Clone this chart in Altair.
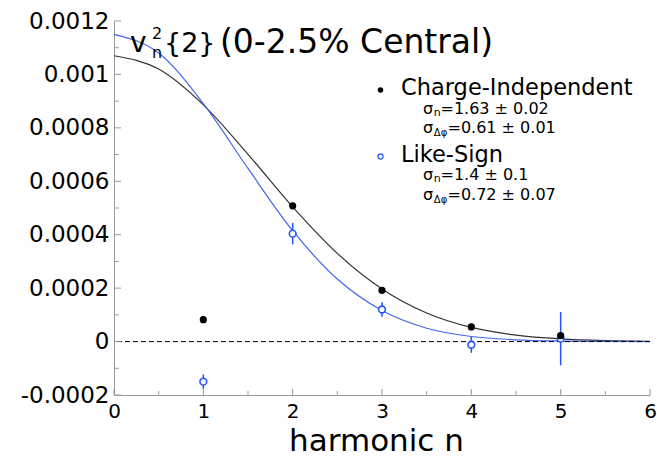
import altair as alt
import pandas as pd

# ---- data ----
harm_n = [1, 2, 3, 4, 5]
ci_vals = [0.000082, 0.000508, 0.000192, 0.000055, 0.000022]
ci_errs = [0.000004, 0.000006, 0.000005, 0.000005, 0.000012]
ls_vals = [-0.00015, 0.000404, 0.00012, -0.000012, 0.000011]
ls_errs = [0.000027, 0.00004, 0.000027, 0.00003, 0.0001]

curve_n = [0, 0.5, 1, 1.5, 2, 2.5, 3, 3.5, 4, 4.5, 5, 5.5, 6]
ci_fit = [0.00107, 0.00102, 0.000886, 0.000701, 0.000504, 0.00033, 0.000197,
          0.000107, 0.000053, 0.000024, 0.00001, 0.0000036, 0.0000012]
ls_fit = [0.00115, 0.00108, 0.000891, 0.000648, 0.000415, 0.000234, 0.000116,
          0.00005, 0.000019, 0.0000066, 0.000002, 0.0000005, 0.0000001]

x_major = [0, 1, 2, 3, 4, 5, 6]
x_minor = [0.5, 1.5, 2.5, 3.5, 4.5, 5.5]
y_major = [-0.0002, 0, 0.0002, 0.0004, 0.0006, 0.0008, 0.001, 0.0012]
y_minor = [-0.0001, 0.0001, 0.0003, 0.0005, 0.0007, 0.0009, 0.0011]

title_parts = ["v", "2", "n", "{2}", "(0-2.5% Central)"]
legend_names = ["Charge-Independent", "Like-Sign"]
ci_params = ["=1.63 ± 0.02", "=0.61 ± 0.01"]
ls_params = ["=1.4 ± 0.1", "=0.72 ± 0.07"]

FONT = "DejaVu Sans"
xs = alt.Scale(domain=[0, 6], nice=False, zero=False)
ys = alt.Scale(domain=[-0.0002, 0.0012], nice=False, zero=False)

pts = pd.DataFrame({
    "n": harm_n,
    "ci": ci_vals, "ci_lo": [v - e for v, e in zip(ci_vals, ci_errs)],
    "ci_hi": [v + e for v, e in zip(ci_vals, ci_errs)],
    "ls": ls_vals, "ls_lo": [v - e for v, e in zip(ls_vals, ls_errs)],
    "ls_hi": [v + e for v, e in zip(ls_vals, ls_errs)],
})
curves = pd.DataFrame({"n": curve_n, "ci": ci_fit, "ls": ls_fit})

x_axis = alt.Axis(values=x_major, format="d", labelFont=FONT, labelFontSize=20,
                  labelColor="black", labelPadding=6, ticks=False, tickSize=0,
                  domainColor="#999999", domainWidth=1, grid=False,
                  labelFlush=False, labelOverlap=False,
                  title="harmonic n", titleFont=FONT, titleFontSize=31,
                  titleFontWeight="normal", titleColor="black",
                  titleBaseline="alphabetic", titleY=55, titleX=262)
y_axis = alt.Axis(values=y_major,
                  labelExpr="datum.value < 0 ? '-' + format(-datum.value, '~g') : format(datum.value, '~g')",
                  labelFont=FONT, labelFontSize=23, labelColor="black",
                  labelPadding=5, ticks=False, tickSize=0,
                  domainColor="#999999", domainWidth=1, grid=False,
                  labelFlush=False, labelOverlap=False, title=None)


def X(field):
    return alt.X(field, scale=xs, axis=x_axis)


def Y(field):
    return alt.Y(field, scale=ys, axis=y_axis)


ci_curve = alt.Chart(curves).mark_line(color="#333333", strokeWidth=1.2, interpolate="monotone").encode(
    x=X("n:Q"), y=Y("ci:Q"))
ls_curve = alt.Chart(curves).mark_line(color="#4466ee", strokeWidth=1.2, interpolate="monotone").encode(
    x=X("n:Q"), y=Y("ls:Q"))

zero_line = alt.Chart(pd.DataFrame({"z": [0]})).mark_rule(
    color="black", strokeDash=[5, 3], strokeWidth=1).encode(y=Y("z:Q"))

# inward ticks
xt_major = alt.Chart(pd.DataFrame({"t": x_major})).mark_rule(color="#999999").encode(
    x=X("t:Q"), y=alt.value(374), y2=alt.value(368))
xt_minor = alt.Chart(pd.DataFrame({"t": x_minor})).mark_rule(color="#999999").encode(
    x=X("t:Q"), y=alt.value(374), y2=alt.value(370))
yt_major = alt.Chart(pd.DataFrame({"t": y_major})).mark_rule(color="#999999").encode(
    y=Y("t:Q"), x=alt.value(0), x2=alt.value(7))
yt_minor = alt.Chart(pd.DataFrame({"t": y_minor})).mark_rule(color="#999999").encode(
    y=Y("t:Q"), x=alt.value(0), x2=alt.value(5))

ls_err = alt.Chart(pts).mark_rule(color="#2255ff", strokeWidth=1.5).encode(
    x=X("n:Q"), y=Y("ls_lo:Q"), y2="ls_hi:Q")
ls_pts = alt.Chart(pts).mark_point(shape="circle", size=45, color="#2255ff",
                                   fill="white", filled=False, strokeWidth=1.6, opacity=1).encode(
    x=X("n:Q"), y=Y("ls:Q"))
ci_err = alt.Chart(pts).mark_rule(color="black", strokeWidth=1.2).encode(
    x=X("n:Q"), y=Y("ci_lo:Q"), y2="ci_hi:Q")
ci_pts = alt.Chart(pts).mark_point(shape="circle", size=52, color="black",
                                   filled=True, opacity=1).encode(
    x=X("n:Q"), y=Y("ci:Q"))


def txt(s, x, y, size, color="black"):
    return alt.Chart(pd.DataFrame({"t": [s]})).mark_text(
        align="left", baseline="alphabetic", font=FONT, fontSize=size, color=color
    ).encode(x=alt.value(x), y=alt.value(y), text="t:N")


def sym(x, y, filled, color, size):
    return alt.Chart(pd.DataFrame({"t": [0]})).mark_point(
        shape="circle", filled=filled, color=color, size=size, strokeWidth=1.2,
        opacity=1, fill=color if filled else "white"
    ).encode(x=alt.value(x), y=alt.value(y))


annot = [
    txt(title_parts[0], 16, 31, 28),
    txt(title_parts[1], 38, 18, 16),
    txt(title_parts[2], 38, 37, 16),
    txt(title_parts[3], 50, 31, 27),
    txt(title_parts[4], 106, 32, 33),
    sym(266.5, 69, True, "black", 30),
    txt(legend_names[0], 287, 74, 22.5),
    txt("σ", 309, 92.5, 16), txt("n", 319.8, 94.5, 11), txt(ci_params[0], 326.5, 92.5, 16),
    txt("σ", 309, 112, 16), txt("Δφ", 319.8, 115, 10), txt(ci_params[1], 333.5, 112, 16),
    sym(266.5, 135.5, False, "#2255ff", 26),
    txt(legend_names[1], 287, 140.5, 22.5),
    txt("σ", 309, 159, 16), txt("n", 319.8, 161, 11), txt(ls_params[0], 326.5, 159, 16),
    txt("σ", 309, 178.5, 16), txt("Δφ", 319.8, 181.5, 10), txt(ls_params[1], 333.5, 178.5, 16),
]

chart = alt.layer(
    ci_curve, ls_curve, zero_line, xt_major, xt_minor, yt_major, yt_minor,
    ls_err, ls_pts, ci_err, ci_pts, *annot
).properties(
    width=536, height=374,
    autosize=alt.AutoSizeParams(type="none"),
    padding={"left": 114, "top": 21, "right": 7, "bottom": 61},
    background="white",
).configure_view(stroke=None)

chart.save("out.html", embed_options={"renderer": "svg", "actions": False})
